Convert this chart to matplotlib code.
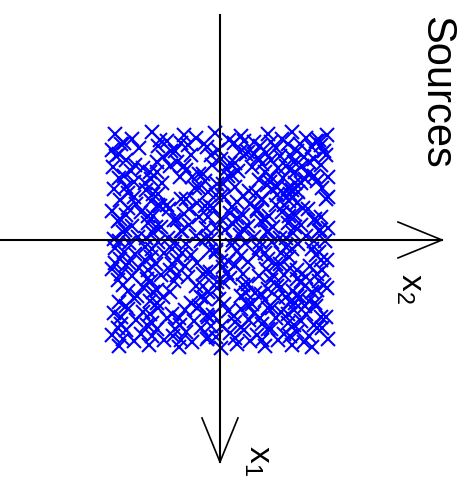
import numpy as np
import matplotlib
matplotlib.use("Agg")
import matplotlib.pyplot as plt

plt.rcParams['font.family'] = ['Liberation Sans', 'DejaVu Sans']
plt.rcParams['mathtext.fontset'] = 'custom'
plt.rcParams['mathtext.rm'] = 'Liberation Sans'
plt.rcParams['mathtext.it'] = 'Liberation Sans'

    # Source samples, one line per band of x1
x1 = [
    -0.97,-0.93,-0.99,-0.91,-0.96,-0.94,-0.98,-0.92,-0.95,-0.90,-0.97,-0.93,-0.99,-0.94,-0.91,-0.96,
    -0.88,-0.84,-0.86,-0.82,-0.87,-0.85,-0.83,-0.89,-0.81,-0.86,-0.84,-0.88,-0.82,-0.85,-0.87,-0.83,
    -0.77,-0.73,-0.76,-0.72,-0.78,-0.74,-0.71,-0.79,-0.75,-0.73,-0.77,-0.72,-0.76,-0.74,-0.78,
    -0.67,-0.63,-0.66,-0.62,-0.68,-0.64,-0.61,-0.69,-0.65,-0.63,-0.67,-0.62,-0.66,-0.64,-0.68,-0.61,
    -0.57,-0.53,-0.56,-0.52,-0.58,-0.54,-0.51,-0.59,-0.55,-0.53,-0.57,-0.52,-0.56,-0.54,-0.58,
    -0.47,-0.43,-0.46,-0.42,-0.48,-0.44,-0.41,-0.49,-0.45,-0.43,-0.47,-0.42,-0.46,-0.44,-0.48,-0.41,
    -0.37,-0.33,-0.36,-0.32,-0.38,-0.34,-0.31,-0.39,-0.35,-0.33,-0.37,-0.32,-0.36,-0.34,-0.38,-0.31,
    -0.27,-0.23,-0.26,-0.22,-0.28,-0.24,-0.21,-0.29,-0.25,-0.23,-0.27,-0.22,-0.26,-0.24,-0.28,-0.21,
    -0.17,-0.13,-0.16,-0.12,-0.18,-0.14,-0.11,-0.19,-0.15,-0.13,-0.17,-0.12,-0.16,-0.14,-0.18,-0.11,
    -0.07,-0.03,-0.06,-0.02,-0.08,-0.04,-0.01,-0.09,-0.05,-0.03,-0.07,-0.02,-0.06,-0.04,-0.08,-0.01,
    0.07,0.03,0.06,0.02,0.08,0.04,0.01,0.09,0.05,0.03,0.07,0.02,0.06,0.04,0.08,0.01,
    0.17,0.13,0.16,0.12,0.18,0.14,0.11,0.19,0.15,0.13,0.17,0.12,0.16,0.14,0.18,
    0.27,0.23,0.26,0.22,0.28,0.24,0.21,0.29,0.25,0.23,0.27,0.22,0.26,0.24,0.28,
    0.37,0.33,0.36,0.32,0.38,0.34,0.31,0.39,0.35,0.33,0.37,0.32,0.36,0.34,0.38,0.31,
    0.47,0.43,0.46,0.42,0.48,0.44,0.41,0.49,0.45,0.43,0.47,0.42,0.46,0.44,0.48,
    0.57,0.53,0.56,0.52,0.58,0.54,0.51,0.59,0.55,0.53,0.57,0.52,0.56,0.54,0.58,
    0.67,0.63,0.66,0.62,0.68,0.64,0.61,0.69,0.65,0.63,0.67,0.62,0.66,0.64,0.68,0.61,
    0.77,0.73,0.76,0.72,0.78,0.74,0.71,0.79,0.75,0.73,0.77,0.72,0.76,0.74,0.78,0.71,
    0.87,0.83,0.86,0.82,0.88,0.84,0.81,0.89,0.85,0.83,0.87,0.82,0.86,0.84,0.88,0.81,
    0.97,0.93,0.96,0.92,0.98,0.94,0.91,0.99,0.95,0.93,0.97,0.92,0.96,0.94,0.98,
    # in-between bands
    -0.89,-0.92,-0.88,-0.91,-0.90,-0.88,-0.92,-0.89,
    -0.79,-0.82,-0.78,-0.81,-0.80,-0.78,-0.82,-0.79,
    -0.69,-0.72,-0.68,-0.71,-0.70,-0.68,-0.72,-0.69,
    -0.59,-0.62,-0.58,-0.61,-0.60,-0.58,-0.62,-0.59,
    -0.49,-0.52,-0.48,-0.51,-0.50,-0.48,-0.52,-0.49,
    -0.39,-0.42,-0.38,-0.41,-0.40,-0.38,-0.42,-0.39,
    -0.29,-0.32,-0.28,-0.31,-0.30,-0.28,-0.32,-0.29,
    -0.19,-0.22,-0.18,-0.21,-0.20,-0.18,-0.22,-0.19,
    -0.09,-0.12,-0.08,-0.11,-0.10,-0.08,-0.12,-0.09,
    0.01,-0.02,0.02,-0.01,0.00,0.02,-0.02,0.01,
    0.11,0.08,0.12,0.09,0.10,0.12,0.08,0.11,
    0.21,0.18,0.22,0.19,0.20,0.22,0.18,0.21,
    0.31,0.28,0.32,0.29,0.30,0.32,0.28,0.31,
    0.41,0.38,0.42,0.39,0.40,0.42,0.38,0.41,
    0.51,0.48,0.52,0.49,0.50,0.52,0.48,0.51,
    0.61,0.58,0.62,0.59,0.60,0.62,0.58,0.61,
    0.71,0.68,0.72,0.69,0.70,0.72,0.68,0.71,
    0.81,0.78,0.82,0.79,0.80,0.82,0.78,0.81,
    0.91,0.88,0.92,0.89,0.90,0.92,0.88,0.91,
]
x2 = [
    -0.96,-0.81,-0.62,-0.49,-0.33,-0.22,-0.05,0.08,0.19,0.31,0.44,0.57,0.66,0.79,0.88,0.98,
    -0.91,-0.74,-0.57,-0.41,-0.29,-0.12,-0.02,0.13,0.26,0.37,0.51,0.62,0.71,0.84,0.93,-0.99,
    -0.95,-0.86,-0.52,-0.39,-0.27,0.01,0.09,0.24,0.35,0.47,0.55,0.68,0.77,0.86,0.97,
    -0.98,-0.82,-0.71,-0.58,-0.46,-0.31,-0.16,-0.07,0.06,0.17,0.29,0.41,0.53,0.64,0.75,0.81,
    -0.93,-0.79,-0.63,-0.53,-0.26,-0.14,-0.03,0.07,0.36,0.46,0.58,0.69,0.78,0.89,0.99,
    -0.97,-0.84,-0.68,-0.57,-0.23,-0.11,0.02,0.14,0.27,0.33,0.48,0.59,0.66,0.72,0.94,0.52,
    -0.92,-0.77,-0.63,-0.49,-0.36,-0.21,-0.09,0.04,0.16,0.28,0.39,0.51,0.63,0.71,0.97,-0.55,
    -0.99,-0.86,-0.72,-0.61,-0.47,-0.33,-0.19,-0.06,0.09,0.21,0.34,0.45,0.57,0.68,0.81,0.93,
    -0.94,-0.81,-0.66,-0.54,-0.42,-0.28,-0.13,0.01,0.12,0.26,0.38,0.49,0.62,0.74,0.86,0.99,
    -0.89,-0.75,-0.61,-0.48,-0.35,-0.22,-0.08,0.05,0.18,0.31,0.43,0.55,0.67,0.79,0.91,-0.97,
    -0.96,-0.83,-0.69,-0.57,-0.44,-0.31,-0.17,-0.04,0.11,0.23,0.36,0.48,0.61,0.72,0.84,0.96,
    -0.92,-0.78,-0.63,-0.51,-0.39,-0.27,-0.04,0.07,0.19,0.33,0.44,0.56,0.63,0.88,0.98,
    -0.99,-0.86,-0.74,-0.59,-0.46,-0.32,-0.21,-0.09,0.03,0.14,0.42,0.55,0.64,0.83,0.94,
    -0.94,-0.81,-0.67,-0.54,-0.42,-0.29,-0.16,-0.03,0.09,0.36,0.47,0.59,0.71,0.79,0.91,0.21,
    -0.84,-0.71,-0.58,-0.22,-0.11,-0.03,0.21,0.32,0.44,0.56,0.67,0.78,0.89,0.98,-0.46,
    -0.93,-0.79,-0.64,-0.52,-0.27,-0.14,0.19,0.29,0.41,0.53,0.64,0.73,0.82,-0.01,0.87,
    -0.97,-0.84,-0.71,-0.57,-0.44,-0.32,-0.19,-0.06,0.07,0.19,0.31,0.44,0.56,0.68,0.79,0.88,
    -0.91,-0.77,-0.62,-0.49,-0.37,-0.24,-0.11,0.02,0.14,0.27,0.39,0.51,0.62,0.74,0.86,0.97,
    -0.99,-0.86,-0.72,-0.58,-0.43,-0.31,-0.17,-0.04,0.09,0.22,0.34,0.47,0.59,0.71,0.82,0.94,
    -0.93,-0.79,-0.65,-0.51,-0.38,-0.26,-0.12,0.01,0.16,0.28,0.41,0.53,0.66,0.77,0.84,
    # in-between bands
    -0.88,-0.55,-0.15,0.22,0.47,0.73,0.91,-0.36,
    -0.93,-0.45,-0.08,0.18,0.42,0.64,0.95,0.31,
    -0.78,-0.58,-0.33,0.14,0.39,0.61,0.82,0.93,
    -0.88,-0.64,-0.37,-0.19,0.11,0.47,0.69,0.86,
    -0.86,-0.69,-0.19,0.03,0.43,0.62,0.74,0.52,
    -0.79,-0.61,-0.31,-0.04,0.21,0.39,0.64,0.99,
    -0.84,-0.57,-0.28,-0.14,0.11,0.34,0.59,0.76,
    -0.92,-0.66,-0.39,-0.11,0.16,0.41,0.63,0.87,
    -0.87,-0.59,-0.36,-0.04,0.21,0.44,0.69,0.92,
    -0.93,-0.68,-0.41,-0.13,0.12,0.37,0.61,0.86,
    -0.88,-0.62,-0.35,-0.09,0.16,0.41,0.66,0.91,
    -0.96,-0.69,-0.44,0.01,0.26,0.51,0.93,-0.83,
    -0.91,-0.66,-0.39,-0.13,0.06,0.49,0.71,0.89,
    -0.89,-0.63,-0.16,0.03,0.26,0.52,0.74,0.95,
    -0.76,-0.61,-0.17,0.24,0.38,0.61,0.84,0.71,
    -0.86,-0.58,-0.21,0.04,0.26,0.48,0.69,0.78,
    -0.91,-0.64,-0.38,-0.12,0.13,0.37,0.62,0.93,
    -0.94,-0.67,-0.41,-0.08,0.19,0.44,0.68,0.89,
    -0.89,-0.62,-0.36,-0.11,0.14,0.39,0.64,0.99,
]

x1 = np.array(x1)
x2 = np.array(x2)

    # Plot is turned a quarter clockwise: x2 runs right, x1 runs down
fig = plt.figure(figsize=(4.71, 4.84), dpi=100)
ax = fig.add_axes([0, 0, 1, 1])
ax.set_xlim(-2.018, 2.303)
ax.set_ylim(-2.239, 2.202)
ax.axis('off')

ax.plot(x2, -x1, 'x', color='#0000ff', markersize=10, markeredgewidth=1.5, zorder=2)

    # Axis arrows
ax.plot([-2.02, 2.037], [0, 0], color='black', lw=1.5, zorder=3)
ax.plot([1.633, 2.037, 1.633], [0.165, 0, -0.165], color='black', lw=1.2, zorder=3)
ax.plot([0, 0], [2.064, -2.037], color='black', lw=1.5, zorder=3)
ax.plot([-0.165, 0, 0.165], [-1.633, -2.037, -1.633], color='black', lw=1.2, zorder=3)

ax.text(1.743, -0.44, r'$\mathrm{x}_2$', fontsize=24, rotation=-90,
        ha='center', va='center')
ax.text(0.34, -2.02, r'$\mathrm{x}_1$', fontsize=24, rotation=-90,
        ha='center', va='center')
ax.text(1.98, 1.35, 'Sources', fontsize=30, rotation=-90,
        ha='center', va='center')

fig.savefig('out.png', dpi=100)
